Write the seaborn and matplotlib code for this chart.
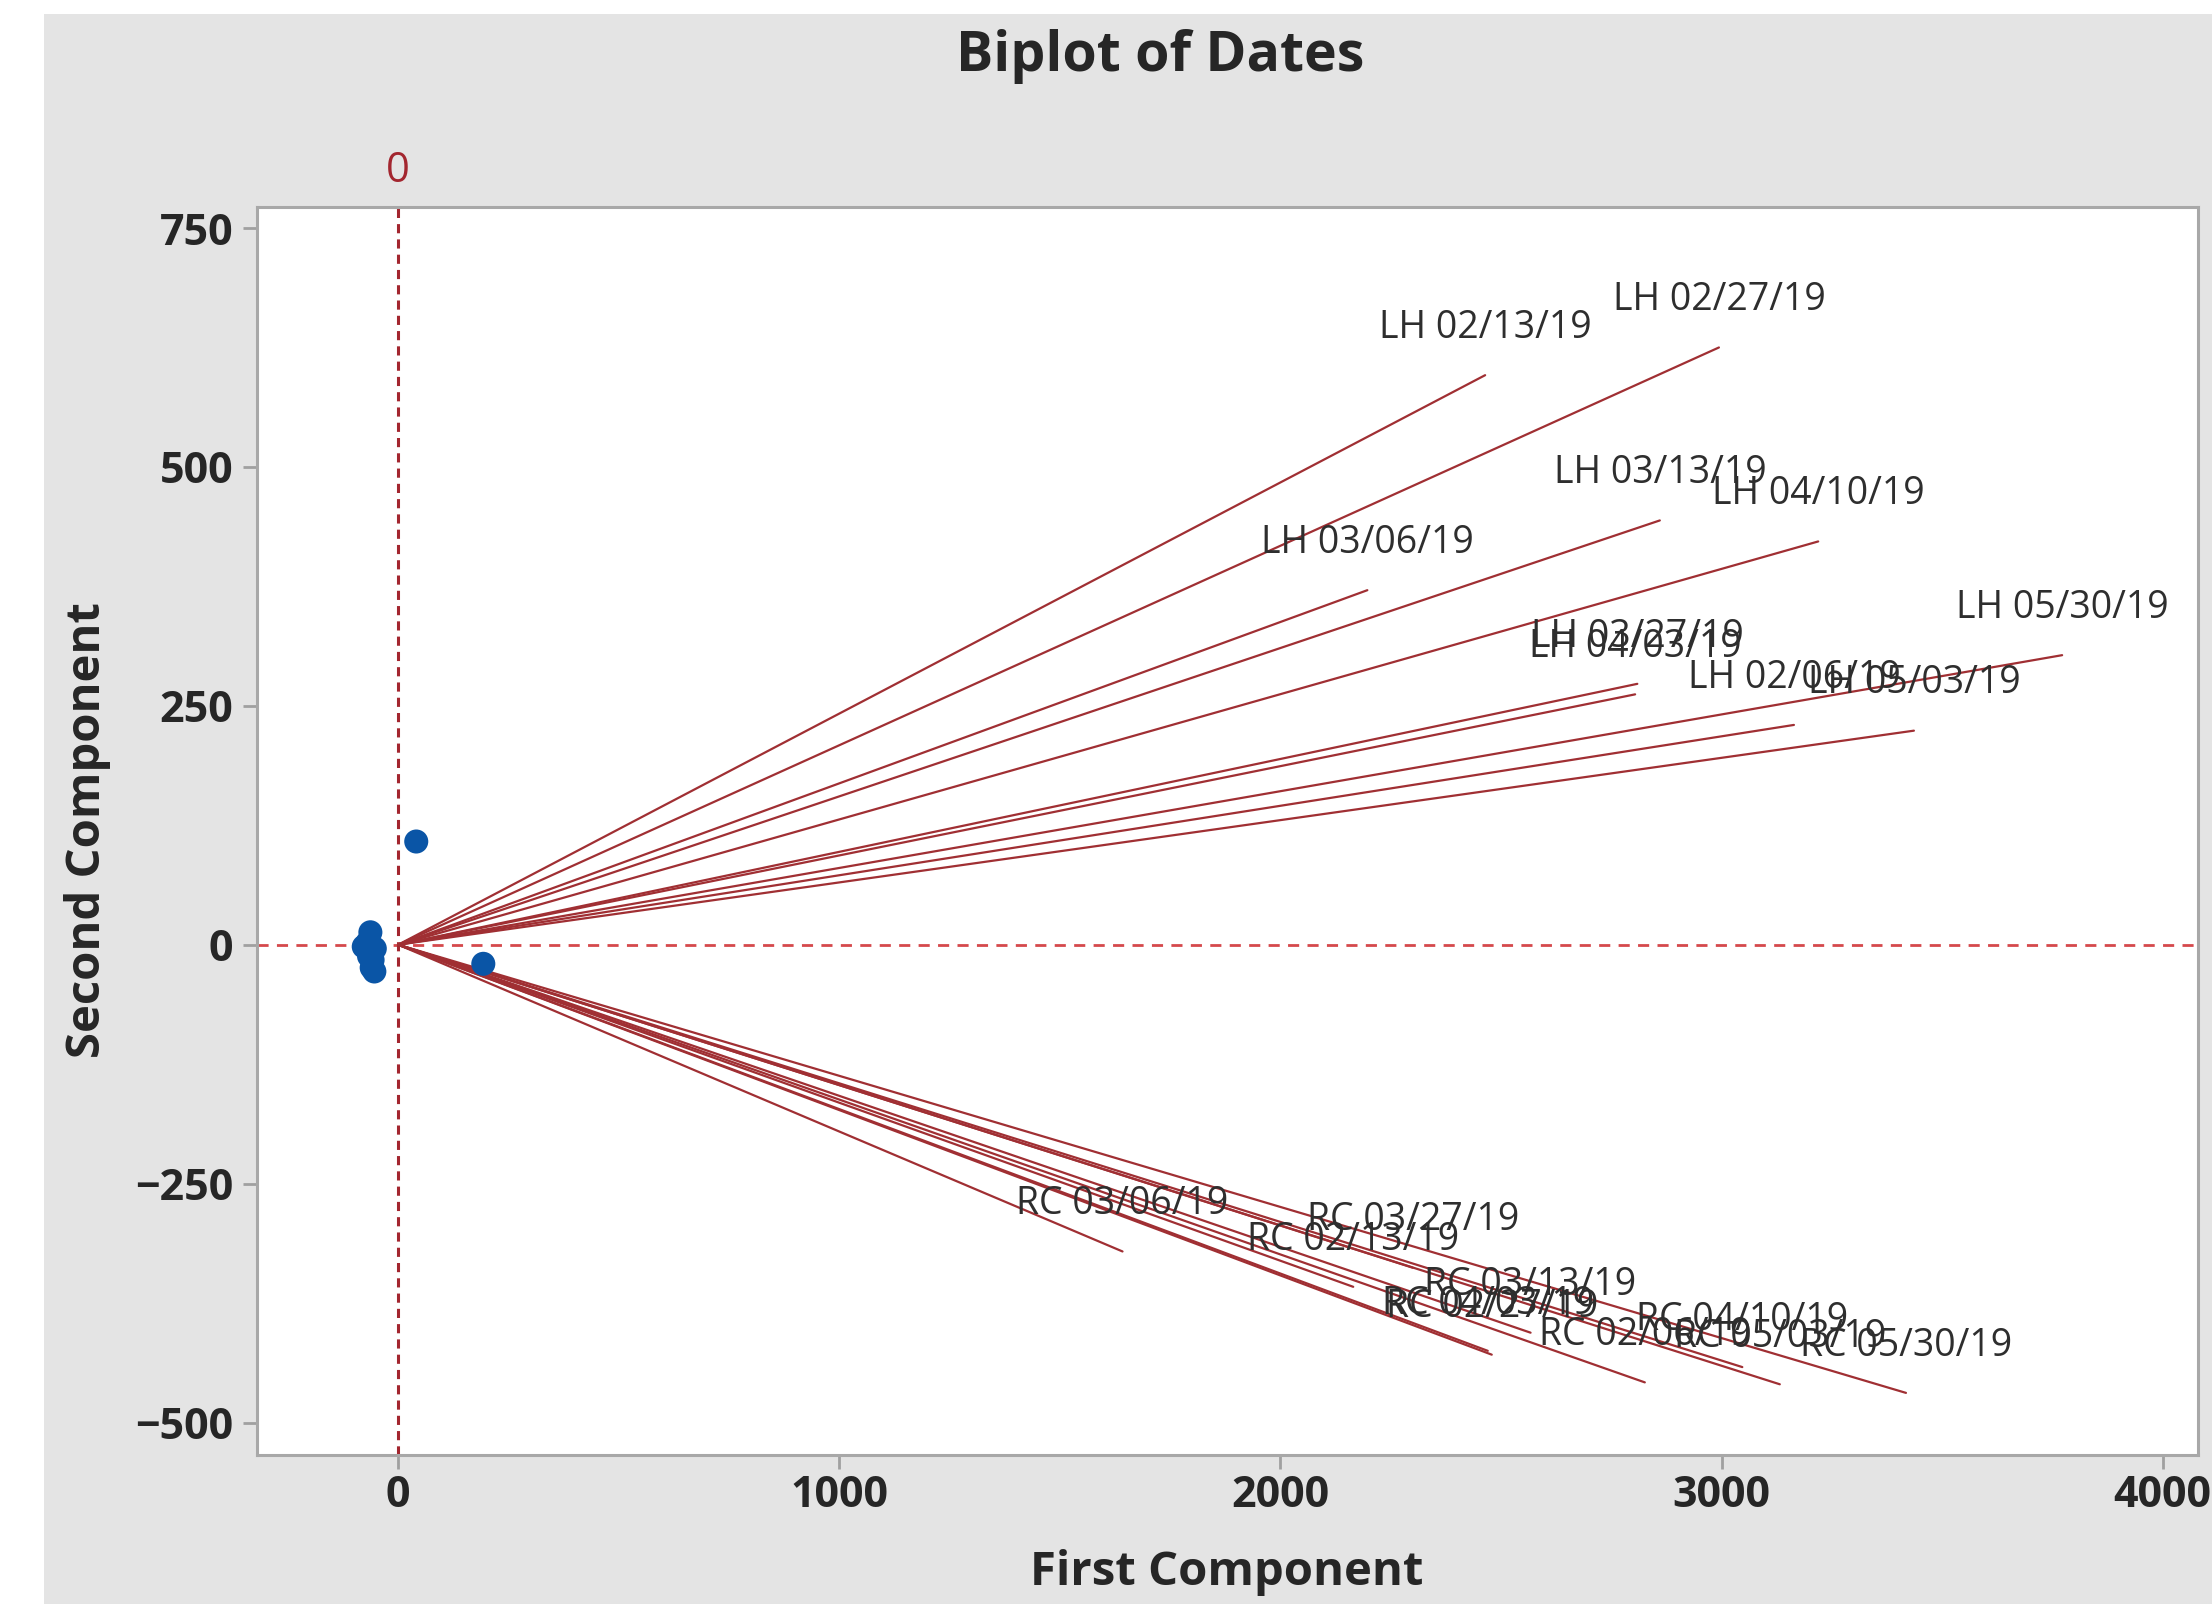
import pandas as pd
import matplotlib
matplotlib.use("Agg")
import matplotlib.pyplot as plt
from matplotlib.patches import Rectangle
import seaborn as sns

# loading vectors (first / second component)
lh_labels = ["LH 02/06/19", "LH 02/13/19", "LH 02/27/19", "LH 03/06/19", "LH 03/13/19",
             "LH 03/27/19", "LH 04/03/19", "LH 04/10/19", "LH 05/03/19", "LH 05/30/19"]
lh_pc1 = [3164, 2464, 2994, 2197, 2860, 2809, 2804, 3219, 3436, 3772]
lh_pc2 = [230, 596, 625, 371, 444, 273, 262, 422, 224, 303]

rc_labels = ["RC 02/06/19", "RC 02/13/19", "RC 02/27/19", "RC 03/06/19", "RC 03/13/19",
             "RC 03/27/19", "RC 04/03/19", "RC 04/10/19", "RC 05/03/19", "RC 05/30/19"]
rc_pc1 = [2826, 2165, 2479, 1642, 2567, 2300, 2470, 3047, 3132, 3418]
rc_pc2 = [-458, -358, -429, -321, -406, -338, -425, -442, -460, -469]

# observation scores
score_pc1 = [41, 193, -63, -78, -53, -66, -60, -54, -70, -58]
score_pc2 = [108, -20, 13, -2, -4, -12, -24, -28, 2, -16]

x_ticks = [0, 1000, 2000, 3000, 4000]
y_ticks = [-500, -250, 0, 250, 500, 750]

#%%
labels = lh_labels + rc_labels
pc1 = lh_pc1 + rc_pc1
pc2 = lh_pc2 + rc_pc2
rows = []
for lab, a, b in zip(labels, pc1, pc2):
    rows.append({"label": lab, "pc1": 0, "pc2": 0})
    rows.append({"label": lab, "pc1": a, "pc2": b})
vectors = pd.DataFrame(rows)
scores = pd.DataFrame({"pc1": score_pc1, "pc2": score_pc2})

sns.set_style("white")
plt.rcParams["font.family"] = ["Open Sans", "DejaVu Sans"]

W, H = 2212, 1604
fig = plt.figure(figsize=(W / 200, H / 200), dpi=200, facecolor="white")
fig.patches.append(Rectangle((44 / W, 0), 1, 1 - 14 / H, transform=fig.transFigure,
                             facecolor="#E4E4E4", edgecolor="none", zorder=-5))
ax = fig.add_axes([257 / W, 1 - 1455 / H, (2198 - 257) / W, (1455 - 207) / H])
ax.set_facecolor("white")

ax.axhline(0, color="#D5494C", ls=(0, (4, 3)), lw=1.0, zorder=1)
ax.axvline(0, color="#A3262F", ls=(0, (3, 2)), lw=1.1, zorder=1)

sns.lineplot(data=vectors, x="pc1", y="pc2", units="label", estimator=None, sort=False,
             color="#A02F33", lw=0.8, ax=ax, zorder=2)
sns.scatterplot(data=scores, x="pc1", y="pc2", color="#0A55A6", s=75, edgecolor="none",
                ax=ax, zorder=3)

for lab, a, b in zip(labels, pc1, pc2):
    ax.annotate(lab, (a, b), xytext=(0, 17), textcoords="offset points",
                ha="center", va="center", fontsize=13.5, color="#2E2E2E", zorder=4)

ax.annotate("0", xy=(0, 1), xycoords=("data", "axes fraction"), xytext=(0, 13),
            textcoords="offset points", ha="center", va="center",
            fontsize=15, color="#A3262F", annotation_clip=False)

ax.set_xlim(-320, 4080)
ax.set_ylim(-534, 772)
ax.set_xticks(x_ticks)
ax.set_yticks(y_ticks)
ax.tick_params(axis="both", which="major", labelsize=15.5, length=5, width=1.0,
               color="#A0A0A0", direction="out", bottom=True, left=True)
ax.tick_params(axis="x", pad=2)
ax.tick_params(axis="y", pad=3.5)
for lab in ax.get_xticklabels() + ax.get_yticklabels():
    lab.set_fontweight("bold")
for sp in ax.spines.values():
    sp.set_color("#A8A8A8")
    sp.set_linewidth(1.1)

ax.set_xlabel("")
ax.set_ylabel("")
fig.text(1227 / W, 1 - 1573 / H, "First Component", ha="center", va="center",
         fontsize=17, fontweight="bold")
fig.text(88 / W, 1 - 830 / H, "Second Component", ha="center", va="center",
         rotation=90, fontsize=17, fontweight="bold")
fig.text(1160 / W, 1 - 57 / H, "Biplot of Dates", ha="center", va="center",
         fontsize=20, fontweight="bold")

plt.savefig("out.png", dpi=200, facecolor=fig.get_facecolor())
